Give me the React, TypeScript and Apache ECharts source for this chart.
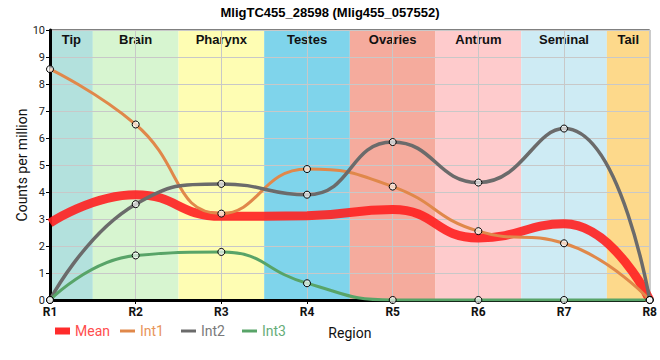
import React, { useEffect, useRef } from "react";
import * as echarts from "echarts";

const regions = ["R1", "R2", "R3", "R4", "R5", "R6", "R7", "R8"];
const meanValues = [2.85, 3.9, 3.1, 3.12, 3.35, 2.3, 2.82, 0];
const int1Values = [8.55, 6.5, 3.2, 4.85, 4.2, 2.55, 2.1, 0];
const int2Values = [0, 3.55, 4.3, 3.9, 5.85, 4.35, 6.35, 0];
const int3Values = [0, 1.65, 1.78, 0.62, 0, 0, 0, 0];
const bandNames = ["Tip", "Brain", "Pharynx", "Testes", "Ovaries", "Antrum", "Seminal", "Tail"];
const bandColors = ["#b3e1dd", "#d7f5d0", "#fefdb3", "#7fd4eb", "#f5ab9d", "#fecbcc", "#ceebf4", "#fdd98b"];

const toPairs = (vals: number[]) => vals.map((v, i) => [i + 1, v]);

export default function App() {
  const ref = useRef<HTMLDivElement>(null);
  useEffect(() => {
    if (!ref.current) return;
    const chart = echarts.init(ref.current, null, { renderer: "svg" });
    const n = regions.length;
    const bands = bandNames.map((name, i) => [
      {
        name,
        xAxis: Math.max(1, i + 0.5),
        itemStyle: { color: bandColors[i] },
      },
      { xAxis: Math.min(n, i + 1.5) },
    ]);
    const symbolStyle = {
      color: "rgba(255,255,255,0.65)",
      borderColor: "#000",
      borderWidth: 1,
    };
    const lineSeries = (name: string, vals: number[], color: string, width: number) => ({
      name,
      type: "line",
      data: toPairs(vals),
      smooth: 0.5,
      symbol: "circle",
      symbolSize: 7,
      showSymbol: true,
      itemStyle: symbolStyle,
      lineStyle: { color, width },
      z: 4,
    });
    chart.setOption({
      animation: false,
      title: {
        text: "MligTC455_28598 (Mlig455_057552)",
        left: "center",
        top: 1,
        textStyle: { fontFamily: "Liberation Sans", fontWeight: "bold", fontSize: 13, color: "#000" },
      },
      grid: {
        left: 50,
        right: 9,
        top: 30,
        bottom: 60,
        show: true,
        borderColor: "#000",
        borderWidth: 1,
        backgroundColor: "transparent",
        z: 2,
      },
      legend: [
        {
          data: [{ name: "Mean", itemStyle: { color: "#ff2b2b", borderWidth: 0 }, textStyle: { color: "#ff4d4d" } }],
          left: 55,
          top: 324,
          padding: 0,
          icon: "rect",
          itemWidth: 15,
          itemHeight: 7,
          itemGap: 17,
          textStyle: { fontFamily: "Roboto", fontSize: 14 },
        },
        {
          data: [
            { name: "Int1", itemStyle: { color: "#e0884a", borderWidth: 0 }, textStyle: { color: "#e8955a" } },
            { name: "Int2", itemStyle: { color: "#6b6b6b", borderWidth: 0 }, textStyle: { color: "#7a7a7a" } },
            { name: "Int3", itemStyle: { color: "#58a468", borderWidth: 0 }, textStyle: { color: "#66ad78" } },
          ],
          left: 120,
          top: 324,
          padding: 0,
          icon: "rect",
          itemWidth: 15,
          itemHeight: 3,
          itemGap: 17,
          textStyle: { fontFamily: "Roboto", fontSize: 14 },
        },
      ],
      xAxis: {
        type: "value",
        min: 1,
        max: n,
        interval: 1,
        z: 2,
        name: "Region",
        nameLocation: "middle",
        nameGap: 26,
        nameMoveOverlap: false,
        nameTextStyle: { fontFamily: "Roboto", fontSize: 14, color: "#111" },
        axisLine: { show: true, onZero: false, lineStyle: { color: "#000", width: 3 } },
        axisTick: { show: true, length: 4, lineStyle: { color: "#000" } },
        splitLine: { show: true, lineStyle: { color: "#c8c8c8", width: 1 } },
        axisLabel: {
          formatter: (v: number) => regions[Math.round(v) - 1] ?? "",
          fontFamily: "Roboto",
          fontWeight: "bold",
          fontSize: 12,
          color: "#111",
          margin: 6,
        },
      },
      yAxis: {
        type: "value",
        min: 0,
        max: 10,
        interval: 1,
        z: 2,
        name: "Counts per million",
        nameLocation: "middle",
        nameGap: 21,
        nameMoveOverlap: false,
        nameTextStyle: { fontFamily: "Roboto", fontSize: 14, color: "#111" },
        axisLine: { show: true, lineStyle: { color: "#000", width: 3 } },
        axisTick: { show: true, length: 4, lineStyle: { color: "#000" } },
        splitLine: { show: true, lineStyle: { color: "#c8c8c8", width: 1 } },
        axisLabel: { fontFamily: "Roboto", fontSize: 11, color: "#222", margin: 5 },
      },
      series: [
        {
          name: "bands",
          type: "line",
          data: [],
          silent: true,
          z: 1,
          markArea: {
            silent: true,
            z: 1,
            label: {
              show: true,
              position: "insideTop",
              distance: 3,
              fontFamily: "Liberation Sans",
              fontWeight: "bold",
              fontSize: 13,
              color: "#111",
            },
            data: bands,
          },
        },
        {
          name: "Mean",
          type: "line",
          data: toPairs(meanValues),
          smooth: 0.5,
          showSymbol: false,
          symbol: "none",
          itemStyle: { color: "#ff2b2b" },
          lineStyle: { color: "#ff2020", width: 9, opacity: 0.9 },
          z: 3,
        },
        lineSeries("Int1", int1Values, "#e0884a", 3),
        lineSeries("Int2", int2Values, "#6b6b6b", 3.5),
        lineSeries("Int3", int3Values, "#58a468", 3),
      ],
    });
    return () => chart.dispose();
  }, []);
  return <div ref={ref} style={{ position: "absolute", left: 0, top: 0, width: 660, height: 360 }} />;
}
